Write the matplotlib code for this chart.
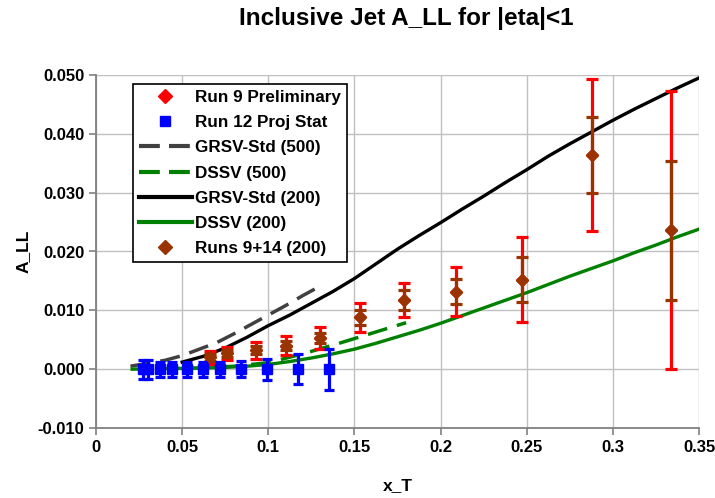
import matplotlib
matplotlib.use("Agg")
import matplotlib.pyplot as plt
from matplotlib.lines import Line2D
from matplotlib.ticker import FuncFormatter, MultipleLocator

plt.rcParams["font.family"] = ["Liberation Sans", "DejaVu Sans"]
plt.rcParams["font.weight"] = "bold"

# Run 9 preliminary / Runs 9+14 (200 GeV) points
xRun9 = [0.066, 0.076, 0.093, 0.110, 0.130, 0.153, 0.179, 0.209, 0.247, 0.288, 0.334]
yRun9 = [0.0020, 0.0027, 0.0032, 0.0040, 0.0053, 0.0088, 0.0117, 0.0132, 0.0152, 0.0364, 0.0236]
errRun9 = [0.0011, 0.0011, 0.0014, 0.0016, 0.0018, 0.0024, 0.0029, 0.0041, 0.0072, 0.0130, 0.0236]
errRun914 = [0.0006, 0.0006, 0.0007, 0.0008, 0.0009, 0.0013, 0.0017, 0.0021, 0.0038, 0.0065, 0.0118]

# Run 12 projected statistical errors (500 GeV)
xRun12 = [0.027, 0.030, 0.037, 0.044, 0.053, 0.062, 0.072, 0.084, 0.099, 0.117, 0.135]
yRun12 = [0.0, 0.0, 0.0, 0.0, 0.0, 0.0, 0.0, 0.0, 0.0, 0.0, 0.0]
errRun12 = [0.0016, 0.0016, 0.0013, 0.0013, 0.0013, 0.0013, 0.0013, 0.0014, 0.0018, 0.0025, 0.0035]

# theory curves, 500 GeV
xGrsv500 = [0.02, 0.03, 0.04, 0.05, 0.06, 0.07, 0.08, 0.09, 0.10, 0.11, 0.12, 0.13]
yGrsv500 = [0.0005, 0.0010, 0.0015, 0.0023, 0.0034, 0.0045, 0.0060, 0.0076, 0.0092, 0.0108, 0.0125, 0.0141]

xDssv500 = [0.02, 0.04, 0.06, 0.08, 0.10, 0.12, 0.14, 0.16, 0.18]
yDssv500 = [0.0000, 0.0001, 0.0002, 0.0005, 0.0011, 0.0026, 0.0043, 0.0061, 0.0079]

# theory curves, 200 GeV
x200 = [0.05, 0.0625, 0.075, 0.0875, 0.10, 0.1125, 0.125, 0.1375, 0.15, 0.1625, 0.175,
        0.1875, 0.20, 0.2125, 0.225, 0.2375, 0.25, 0.2625, 0.275, 0.2875, 0.30, 0.3125,
        0.325, 0.3375, 0.35]
yGrsv200 = [0.0012, 0.0022, 0.0036, 0.0054, 0.0074, 0.0092, 0.0112, 0.0132, 0.0154, 0.0179,
            0.0204, 0.0227, 0.0249, 0.0272, 0.0294, 0.0317, 0.0339, 0.0362, 0.0383, 0.0403,
            0.0423, 0.0442, 0.0460, 0.0478, 0.0495]
yDssv200 = [0.0001, 0.0002, 0.0003, 0.0005, 0.0008, 0.0013, 0.0019, 0.0026, 0.0034, 0.0044,
            0.0055, 0.0066, 0.0078, 0.0091, 0.0104, 0.0117, 0.0130, 0.0144, 0.0158, 0.0171,
            0.0184, 0.0198, 0.0211, 0.0225, 0.0238]

labels = ["Run 9 Preliminary", "Run 12 Proj Stat", "GRSV-Std (500)", "DSSV (500)",
          "GRSV-Std (200)", "DSSV (200)", "Runs 9+14 (200)"]

cGray = "#404040"
cGreen = "#008000"
cRed = "#ff0000"
cBlue = "#0000ff"
cBrown = "#993300"

fig = plt.figure(figsize=(7.15, 4.98), dpi=100)
ax = fig.add_axes([96 / 715, 1 - 428 / 498, 603 / 715, 353 / 498])

dash = (5.8, 2.9)
ax.plot(xGrsv500, yGrsv500, color=cGray, lw=2.5, dashes=dash, zorder=2)
ax.plot(xDssv500, yDssv500, color=cGreen, lw=2.5, dashes=dash, zorder=2)
ax.plot(x200, yGrsv200, color="black", lw=2.4, solid_joinstyle="round", zorder=2)
ax.plot(x200, yDssv200, color=cGreen, lw=2.4, solid_joinstyle="round", zorder=2)

ax.errorbar(xRun9, yRun9, yerr=errRun9, fmt="D", color=cRed, ms=6, elinewidth=2.3,
            capsize=4, capthick=2.3, zorder=3)
ax.errorbar(xRun9, yRun9, yerr=errRun914, fmt="D", color=cBrown, ms=6, elinewidth=2.3,
            capsize=4, capthick=2.3, zorder=4)
ax.errorbar(xRun12, yRun12, yerr=errRun12, fmt="s", color=cBlue, ms=6.5, elinewidth=2.3,
            capsize=3.5, capthick=2.3, zorder=4)

ax.set_xlim(0, 0.35)
ax.set_ylim(-0.010, 0.050)
ax.xaxis.set_major_locator(MultipleLocator(0.05))
ax.yaxis.set_major_locator(MultipleLocator(0.01))
ax.xaxis.set_major_formatter(FuncFormatter(lambda v, p: "%g" % round(v, 3)))
ax.yaxis.set_major_formatter(FuncFormatter(lambda v, p: "%.3f" % v))
ax.grid(True, color="#c0c0c0", lw=1)
ax.set_axisbelow(True)
for s in ["top", "right"]:
    ax.spines[s].set_visible(False)
for s in ["left", "bottom"]:
    ax.spines[s].set_color("#808080")
    ax.spines[s].set_linewidth(1.3)
ax.tick_params(colors="#808080", labelcolor="black", labelsize=12, length=5, width=1.2)
for t in ax.get_xticklabels() + ax.get_yticklabels():
    t.set_fontweight("bold")

ax.set_xlabel("x_T", fontsize=12.5, fontweight="bold", labelpad=17)
ax.set_ylabel("A_LL", fontsize=12.5, fontweight="bold", labelpad=5)
fig.text(406 / 715, 1 - 18 / 498, "Inclusive Jet A_LL for |eta|<1", ha="center", va="center",
         fontsize=17.5, fontweight="bold")

handles = [
    Line2D([], [], ls="none", marker="D", color=cRed, ms=7),
    Line2D([], [], ls="none", marker="s", color=cBlue, ms=7),
    Line2D([], [], color=cGray, lw=3, dashes=(5, 2.2)),
    Line2D([], [], color=cGreen, lw=3, dashes=(5, 2.2)),
    Line2D([], [], color="black", lw=3),
    Line2D([], [], color=cGreen, lw=3),
    Line2D([], [], ls="none", marker="D", color=cBrown, ms=7),
]
leg = fig.legend(handles, labels, loc="upper left", bbox_to_anchor=(133 / 715, 1 - 84 / 498),
                 borderaxespad=0, fancybox=False, framealpha=1, edgecolor="black",
                 prop={"size": 12.3, "weight": "bold"}, handlelength=3.1, handletextpad=0.2,
                 labelspacing=0.6, borderpad=0.35)
leg.get_frame().set_linewidth(1.2)

fig.savefig("out.png", dpi=100)
